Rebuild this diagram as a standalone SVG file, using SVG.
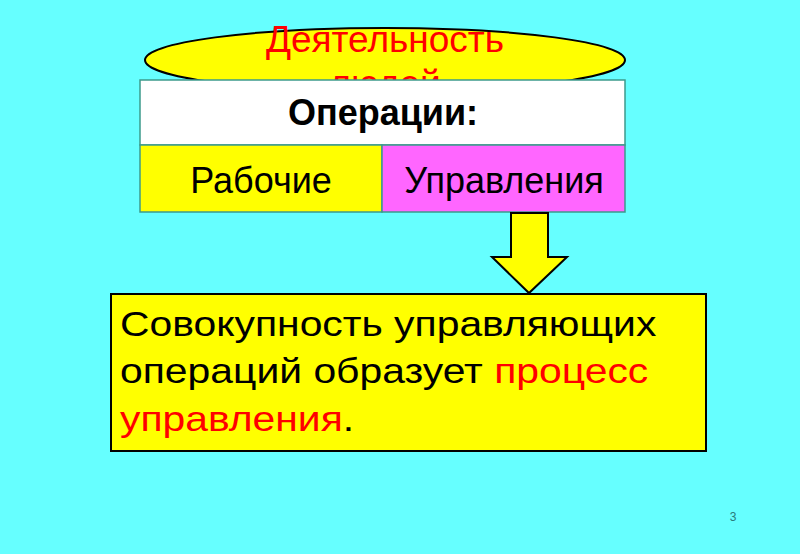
<svg xmlns="http://www.w3.org/2000/svg" width="800" height="554" viewBox="0 0 800 554">
<style>
text{font-family:"Liberation Sans",Arial,sans-serif}
.cell{stroke:#3C9A8C;stroke-width:1.5}
.blk{fill:#000}
.red{fill:#FF0000}
</style>
<defs>
<clipPath id="above"><rect x="0" y="0" width="800" height="80"/></clipPath>
</defs>
<rect width="800" height="554" fill="#66FFFF"/>
<g id="activity">
<ellipse cx="385" cy="60" rx="240" ry="32" fill="#FFFF00" stroke="#000" stroke-width="2"/>
<text x="385" y="52" font-size="37" text-anchor="middle" class="red">Деятельность</text>
<text x="385" y="96" font-size="37" text-anchor="middle" class="red" clip-path="url(#above)">людей</text>
</g>
<g id="operations">
<rect class="cell" x="140" y="80" width="485" height="65" fill="#FFFFFF"/>
<text x="383" y="125" font-size="36" font-weight="bold" text-anchor="middle" class="blk">Операции:</text>
</g>
<g id="working">
<rect class="cell" x="140" y="145" width="242" height="67" fill="#FFFF00"/>
<text x="261" y="193" font-size="36" text-anchor="middle" class="blk">Рабочие</text>
</g>
<g id="control">
<rect class="cell" x="382" y="145" width="243" height="67" fill="#FF66FF"/>
<text x="504" y="193" font-size="36" text-anchor="middle" class="blk">Управления</text>
</g>
<g id="connectors">
<polygon points="511,213 548,213 548,257 567,257 529,293 492,257 511,257" fill="#FFFF00" stroke="#000" stroke-width="2" stroke-linejoin="miter"/>
</g>
<g id="process">
<rect x="111" y="294" width="595" height="157" fill="#FFFF00" stroke="#000" stroke-width="2"/>
<text font-size="36" class="blk" transform="translate(120,0) scale(1.135,1)"><tspan x="0" y="336">Совокупность управляющих</tspan><tspan x="0" y="383">операций образует <tspan class="red">процесс</tspan></tspan><tspan x="0" y="431"><tspan class="red">управления</tspan>.</tspan></text>
</g>
<text x="733" y="521" font-size="12" text-anchor="middle" fill="#2A7A7A">3</text>
</svg>
